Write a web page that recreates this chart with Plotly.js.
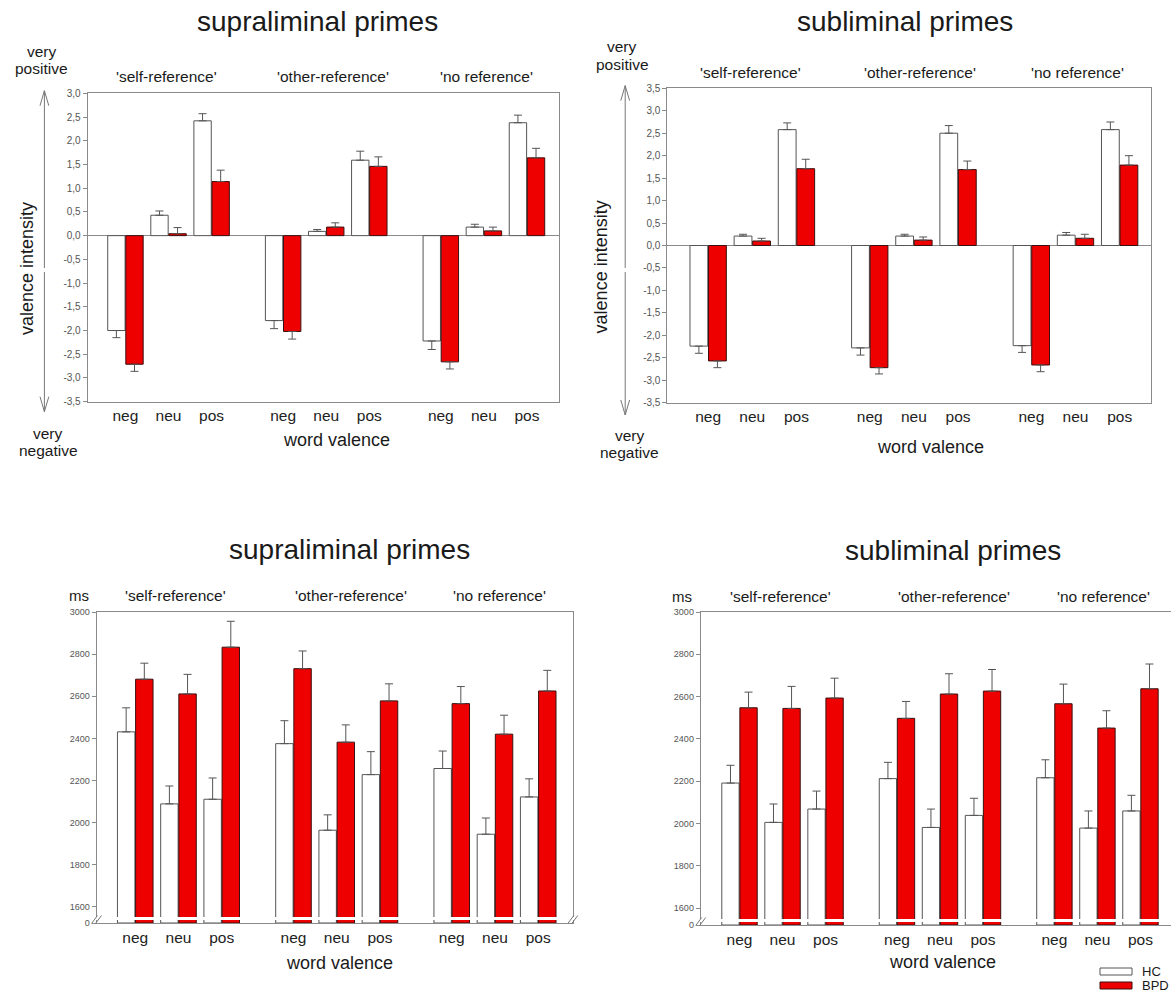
<!DOCTYPE html>
<html><head><meta charset="utf-8">
<script src="https://cdn.plot.ly/plotly-3.0.1.min.js"></script>
<style>html,body{margin:0;padding:0;background:#fff}#chart{width:1171px;height:996px}</style>
</head><body><div id="chart"></div>
<script>
// ---------------- DATA ----------------
const groups = ["'self-reference'", "'other-reference'", "'no reference'"];
const valences = ["neg", "neu", "pos"];
const seriesNames = ["HC", "BPD"];

// valence ratings, supraliminal primes
const supraValHC     = [-2.00, 0.43, 2.42, -1.79, 0.09, 1.59, -2.22, 0.18, 2.38];
const supraValHCErr  = [ 0.15, 0.09, 0.15,  0.17, 0.04, 0.19,  0.18, 0.06, 0.16];
const supraValBPD    = [-2.71, 0.04, 1.14, -2.02, 0.18, 1.46, -2.66, 0.10, 1.64];
const supraValBPDErr = [ 0.15, 0.13, 0.24,  0.16, 0.09, 0.20,  0.15, 0.08, 0.20];

// valence ratings, subliminal primes
const subValHC     = [-2.24, 0.21, 2.58, -2.28, 0.21, 2.50, -2.23, 0.23, 2.58];
const subValHCErr  = [ 0.16, 0.04, 0.15,  0.16, 0.04, 0.17,  0.15, 0.06, 0.17];
const subValBPD    = [-2.57, 0.10, 1.71, -2.72, 0.12, 1.69, -2.66, 0.16, 1.79];
const subValBPDErr = [ 0.15, 0.06, 0.21,  0.14, 0.07, 0.19,  0.15, 0.09, 0.21];

// reaction times (ms), supraliminal primes
const supraRtHC     = [2431, 2089, 2111, 2375, 1964, 2228, 2257, 1945, 2122];
const supraRtHCErr  = [ 114,   85,  101,  109,   73,  109,   83,   77,   86];
const supraRtBPD    = [2681, 2611, 2833, 2731, 2382, 2578, 2565, 2420, 2625];
const supraRtBPDErr = [  76,   93,  123,   84,   82,   81,   81,   90,   98];

// reaction times (ms), subliminal primes
const subRtHC     = [2191, 2005, 2068, 2212, 1981, 2038, 2216, 1978, 2059];
const subRtHCErr  = [  84,   87,   85,   77,   87,   81,   85,   81,   74];
const subRtBPD    = [2547, 2544, 2593, 2497, 2612, 2626, 2566, 2451, 2637];
const subRtBPDErr = [  74,  104,   94,   80,   96,  102,   93,   82,  117];

// tick labels
const valTicks1 = [3.0, 2.5, 2.0, 1.5, 1.0, 0.5, 0.0, -0.5, -1.0, -1.5, -2.0, -2.5, -3.0, -3.5];
const valTickText1 = ["3,0","2,5","2,0","1,5","1,0","0,5","0,0","-0,5","-1,0","-1,5","-2,0","-2,5","-3,0","-3,5"];
const valTicks2 = [3.5, 3.0, 2.5, 2.0, 1.5, 1.0, 0.5, 0.0, -0.5, -1.0, -1.5, -2.0, -2.5, -3.0, -3.5];
const valTickText2 = ["3,5","3,0","2,5","2,0","1,5","1,0","0,5","0,0","-0,5","-1,0","-1,5","-2,0","-2,5","-3,0","-3,5"];
const rtTicks = [1600, 1800, 2000, 2200, 2400, 2600, 2800, 3000];
const rtTickText = ["1600","1800","2000","2200","2400","2600","2800","3000"];
const rtZeroTicks = [0];
const rtZeroText = ["0"];

// ---------------- LAYOUT HELPERS ----------------
const W = 1171, H = 996;
const FONT = "Liberation Sans, Arial, sans-serif";
const px = x => x / W;
const py = y => 1 - y / H;
const groupGap = 3.66;
const xPos = [];
groups.forEach((g, gi) => valences.forEach((v, vi) => xPos.push(gi * groupGap + vi)));
const xLabels = groups.flatMap(() => valences);

const RED = "#ee0000", AX = "#8a8a8a", ERRC = "#555";

function bar(y, err, xa, ya, isBPD, withErr, name) {
  return {
    type: "bar", name: name, x: xPos, y: y, xaxis: xa, yaxis: ya,
    marker: { color: isBPD ? RED : "#ffffff", line: { color: isBPD ? "#3a1010" : "#555", width: 1 } },
    error_y: withErr ? {
      type: "data", symmetric: false,
      array: y.map((v, i) => v >= 0 ? err[i] : 0),
      arrayminus: y.map((v, i) => v < 0 ? err[i] : 0),
      color: ERRC, thickness: 1, width: 4, visible: true
    } : { visible: false },
    hoverinfo: "skip", showlegend: false
  };
}

const traces = [
  bar(supraValHC, supraValHCErr, "x", "y", false, true, seriesNames[0]),
  bar(supraValBPD, supraValBPDErr, "x", "y", true, true, seriesNames[1]),
  bar(subValHC, subValHCErr, "x2", "y2", false, true, seriesNames[0]),
  bar(subValBPD, subValBPDErr, "x2", "y2", true, true, seriesNames[1]),
  bar(supraRtHC, supraRtHCErr, "x3", "y3", false, true, seriesNames[0]),
  bar(supraRtBPD, supraRtBPDErr, "x3", "y3", true, true, seriesNames[1]),
  bar(supraRtHC, supraRtHCErr, "x4", "y4", false, false, seriesNames[0]),
  bar(supraRtBPD, supraRtBPDErr, "x4", "y4", true, false, seriesNames[1]),
  bar(subRtHC, subRtHCErr, "x5", "y5", false, true, seriesNames[0]),
  bar(subRtBPD, subRtBPDErr, "x5", "y5", true, true, seriesNames[1]),
  bar(subRtHC, subRtHCErr, "x6", "y6", false, false, seriesNames[0]),
  bar(subRtBPD, subRtBPDErr, "x6", "y6", true, false, seriesNames[1])
];

function xAxis(d0, d1, r0, r1, anchor, opts) {
  return Object.assign({
    domain: [px(d0), px(d1)], range: [r0, r1], anchor: anchor,
    tickmode: "array", tickvals: xPos, ticktext: xLabels, ticks: "",
    showline: true, mirror: true, linecolor: AX, linewidth: 1,
    showgrid: false, zeroline: false, fixedrange: true,
    tickfont: { family: FONT, size: 15.5, color: "#222" }, ticklabelstandoff: 0
  }, opts || {});
}
function yAxis(top, bot, r0, r1, anchor, tv, tt, opts) {
  return Object.assign({
    domain: [py(bot), py(top)], range: [r0, r1], anchor: anchor,
    tickmode: "array", tickvals: tv, ticktext: tt,
    ticks: "outside", ticklen: 4, tickcolor: AX, tickwidth: 1,
    showline: true, mirror: true, linecolor: AX, linewidth: 1,
    showgrid: false, zeroline: false, fixedrange: true,
    tickfont: { family: FONT, size: 10, color: "#555" }
  }, opts || {});
}

const noLabels = { showticklabels: false, side: "top", mirror: false };

const layout = {
  width: W, height: H, margin: { l: 0, r: 0, t: 0, b: 0 },
  paper_bgcolor: "#fff", plot_bgcolor: "#fff",
  showlegend: false, barmode: "group", bargap: 0.16, bargroupgap: 0.04,
  font: { family: FONT, color: "#222" },
  xaxis:  xAxis(87.7, 559.3, -0.876, 10.07, "y"),
  yaxis:  yAxis(93.3, 401.7, -3.5, 3.0, "x", valTicks1, valTickText1, { zeroline: true, zerolinecolor: AX, zerolinewidth: 1 }),
  xaxis2: xAxis(667.4, 1151, -0.923, 10.03, "y2"),
  yaxis2: yAxis(88.3, 402.7, -3.5, 3.5, "x2", valTicks2, valTickText2, { zeroline: true, zerolinecolor: AX, zerolinewidth: 1 }),
  xaxis3: xAxis(96.5, 572.8, -0.896, 10.12, "y3", noLabels),
  yaxis3: yAxis(612, 917, 1552, 3000, "x3", rtTicks, rtTickText, { tickfont: { family: FONT, size: 9, color: "#555" } }),
  xaxis4: xAxis(96.5, 572.8, -0.896, 10.12, "y4", { mirror: false }),
  yaxis4: yAxis(920, 923, 0, 1, "x4", rtZeroTicks, rtZeroText, { tickfont: { family: FONT, size: 9, color: "#555" } }),
  xaxis5: xAxis(700.7, 1171, -0.902, 10.03, "y5", noLabels),
  yaxis5: yAxis(612, 919, 1548, 3000, "x5", rtTicks, rtTickText, { mirror: false, tickfont: { family: FONT, size: 9, color: "#555" } }),
  xaxis6: xAxis(700.7, 1171, -0.902, 10.03, "y6", { mirror: false }),
  yaxis6: yAxis(922, 925, 0, 1, "x6", rtZeroTicks, rtZeroText, { mirror: false, tickfont: { family: FONT, size: 9, color: "#555" } }),
  annotations: [],
  shapes: []
};

function txt(t, x, y, size, opts) {
  layout.annotations.push(Object.assign({
    text: t, x: px(x), y: py(y), xref: "paper", yref: "paper",
    xanchor: "center", yanchor: "middle", showarrow: false,
    font: { family: FONT, size: size, color: "#1a1a1a" }
  }, opts || {}));
}
function seg(x0, y0, x1, y1, color, w) {
  layout.shapes.push({ type: "line", xref: "paper", yref: "paper",
    x0: px(x0), y0: py(y0), x1: px(x1), y1: py(y1),
    line: { color: color || AX, width: w || 1 } });
}

// titles
txt("supraliminal primes", 317.5, 21, 28);
txt("subliminal primes", 905, 21, 28);
txt("supraliminal primes", 349.5, 549, 28);
txt("subliminal primes", 953, 550, 28);

// group labels
[[166.8, 76], [332.9, 76], [486.8, 76]].forEach((p, i) => txt(groups[i], p[0], p[1], 15.5));
[[750.4, 72], [919.8, 72], [1077.1, 72]].forEach((p, i) => txt(groups[i], p[0], p[1], 15.5));
[[175.7, 595], [350.5, 595], [500, 595]].forEach((p, i) => txt(groups[i], p[0], p[1], 15.5));
[[780, 596], [954.3, 596], [1103.5, 596]].forEach((p, i) => txt(groups[i], p[0], p[1], 15.5));

// x titles
txt("word valence", 336.6, 440, 18);
txt("word valence", 930.1, 447, 18);
txt("word valence", 339.8, 962.7, 18);
txt("word valence", 942.9, 961.7, 18);

// y titles
txt("valence intensity", 26.4, 268.7, 18, { textangle: -90 });
txt("valence intensity", 600.7, 266.7, 18, { textangle: -90 });
txt("ms", 78.8, 595, 15);
txt("ms", 681.8, 596, 15);

// very positive / very negative
txt("very", 41.6, 52, 15.5); txt("positive", 41, 69, 15.5);
txt("very", 622.4, 46, 15.5); txt("positive", 622.4, 64, 15.5);
txt("very", 48.1, 433, 15.5); txt("negative", 48.5, 450, 15.5);
txt("very", 630, 435, 15.5); txt("negative", 629.4, 452, 15.5);

// double arrows
function dblArrow(x, top, bot, gap0, gap1) {
  const c = "#777";
  seg(x, top, x, gap0, c); seg(x, gap1, x, bot, c);
  seg(x - 4.4, top + 15, x, top, c); seg(x, top, x + 4.4, top + 15, c);
  seg(x - 4.4, bot - 15, x, bot, c); seg(x, bot, x + 4.4, bot - 15, c);
}
dblArrow(44.4, 90.7, 411.7, 268, 272);
dblArrow(625.2, 85.6, 415, 268, 272);

// axis breaks
function brk(cx, cy) {
  [-2, 2].forEach(d => seg(cx + d - 3, cy + 4, cx + d + 3, cy - 4, "#777"));
}
brk(96.5, 919.5); brk(572.8, 919.5); brk(700.7, 921.5);

// legend
layout.shapes.push({ type: "rect", xref: "paper", yref: "paper",
  x0: px(1100), x1: px(1132), y0: py(975), y1: py(968),
  fillcolor: "#fff", line: { color: "#555", width: 1 } });
layout.shapes.push({ type: "rect", xref: "paper", yref: "paper",
  x0: px(1100), x1: px(1132), y0: py(989), y1: py(982),
  fillcolor: RED, line: { color: "#3a1010", width: 1 } });
txt(seriesNames[0], 1140, 971.5, 13, { xanchor: "left" });
txt(seriesNames[1], 1140, 985.5, 13, { xanchor: "left" });

Plotly.newPlot("chart", traces, layout, { staticPlot: true, displayModeBar: false });
</script>
</body></html>
